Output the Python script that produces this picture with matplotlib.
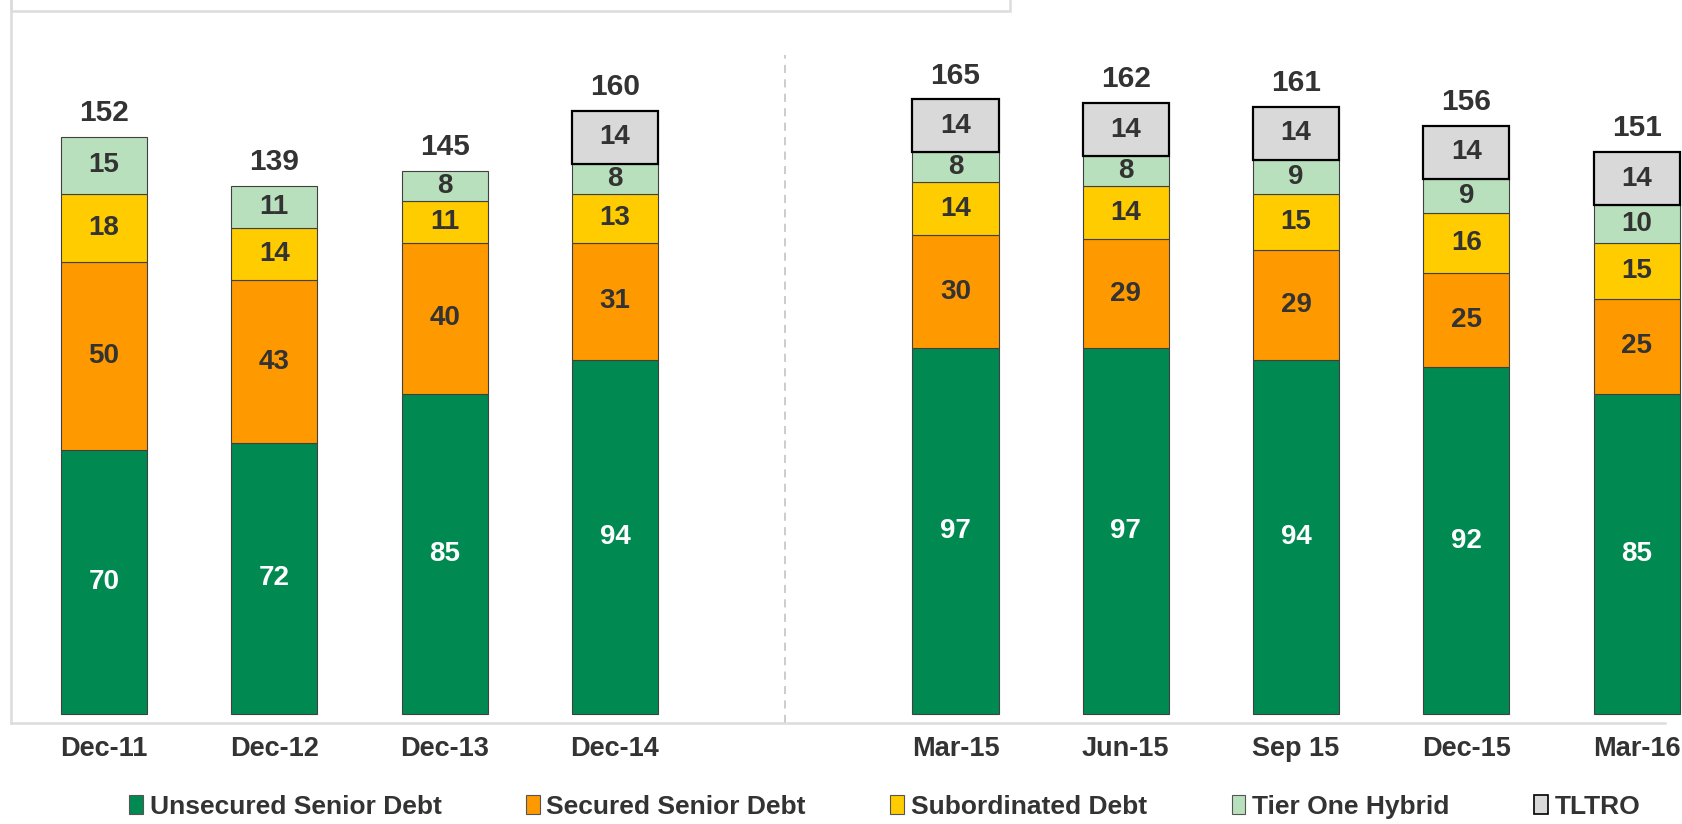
import matplotlib.pyplot as plt
import numpy as np
from matplotlib.patches import Patch, Rectangle

categories = ['Dec-11', 'Dec-12', 'Dec-13', 'Dec-14', 'Mar-15', 'Jun-15', 'Sep 15', 'Dec-15', 'Mar-16']
unsecured = [70, 72, 85, 94, 97, 97, 94, 92, 85]
secured = [50, 43, 40, 31, 30, 29, 29, 25, 25]
subordinated = [18, 14, 11, 13, 14, 14, 15, 16, 15]
tier_one = [15, 11, 8, 8, 8, 8, 9, 9, 10]
tltro = [0, 0, 0, 14, 14, 14, 14, 14, 14]
totals = [152, 139, 145, 160, 165, 162, 161, 156, 151]

series = [
    ('Unsecured Senior Debt', unsecured, '#008A52', 'white'),
    ('Secured Senior Debt', secured, '#FF9900', '#333333'),
    ('Subordinated Debt', subordinated, '#FFCC00', '#333333'),
    ('Tier One Hybrid', tier_one, '#B8E0BC', '#333333'),
    ('TLTRO', tltro, '#D9D9D9', '#333333'),
]

font = ['Liberation Sans', 'DejaVu Sans']
txt = '#333333'
frame = '#DCDCDC'

W, H = 1683, 824
fig = plt.figure(figsize=(W / 100, H / 100), dpi=100)
# axes: left edge 11px, bottom 723px from top, up to the top of the figure
ax = fig.add_axes([11 / W, (H - 723) / H, (W - 11) / W, 723 / H])

n = len(categories)
idx = np.arange(n)
x = idx + (idx >= 4)  # gap between annual and quarterly bars

bottom = np.zeros(n)
handles = []
for name, vals, color, lab_color in series:
    vals = np.array(vals, dtype=float)
    mask = vals > 0
    is_tltro = name == 'TLTRO'
    bars = ax.bar(x[mask], vals[mask], width=0.505, bottom=bottom[mask], color=color,
                  edgecolor='black' if is_tltro else '#404040',
                  linewidth=1.6 if is_tltro else 0.8, zorder=3)
    ax.bar_label(bars, labels=[f'{v:.0f}' for v in vals[mask]], label_type='center',
                 color=lab_color, fontsize=20, fontweight='bold', family=font)
    bottom += vals
    handles.append(Patch(facecolor=color, edgecolor='black' if is_tltro else '#555555',
                         linewidth=1.2 if is_tltro else 0.8, label=name))

for xi, top, tot in zip(x, bottom, totals):
    ax.annotate(f'{tot}', (xi, top), xytext=(0, 11.5), textcoords='offset points',
                ha='center', va='baseline', fontsize=21.5, fontweight='bold',
                color=txt, family=font)

# dashed separator between Dec-14 and Mar-15
ax.axvline(4, ymin=0, ymax=(723 - 55) / 723, color='#C8C8C8', lw=1.3,
           dashes=(4.5, 3.5), zorder=1)

ax.set_xlim((11 - 104) / 170.3, (W - 104) / 170.3)
ax.set_ylim(-(723 - 714) / 3.77, 714 / 3.77)
ax.set_xticks(x)
ax.set_xticklabels(categories, fontsize=19.5, fontweight='bold', color=txt, family=font)
ax.tick_params(axis='x', length=0, pad=9)
ax.set_yticks([])

for s in ['top', 'right']:
    ax.spines[s].set_visible(False)
ax.spines['left'].set_color(frame)
ax.spines['left'].set_linewidth(1.8)
ax.spines['bottom'].set_color(frame)
ax.spines['bottom'].set_linewidth(1.8)
ax.spines['bottom'].set_bounds(ax.get_xlim()[0], (1665 - 104) / 170.3)

# cut-off title box at the top left
fig.add_artist(Rectangle((11 / W, (H - 11) / H), (1010 - 11) / W, 0.05,
                         transform=fig.transFigure, fill=False, edgecolor=frame,
                         linewidth=1.8, clip_on=False))

fig.legend(handles=handles, loc='center', bbox_to_anchor=(0.5256, 0.021), ncol=5,
           frameon=False, handlelength=0.53, handleheight=0.68, handletextpad=0.25,
           columnspacing=3.2, prop={'family': font, 'weight': 'bold', 'size': 19},
           labelcolor=txt)

fig.savefig('out.png', dpi=100)
